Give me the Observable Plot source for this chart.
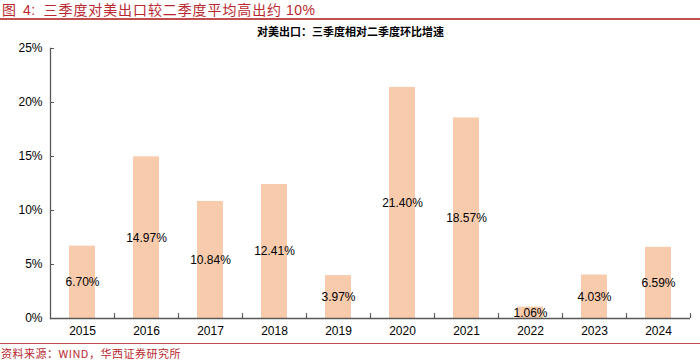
<!DOCTYPE html>
<html><head><meta charset="utf-8">
<script src="https://cdn.jsdelivr.net/npm/d3@7"></script>
<script src="https://cdn.jsdelivr.net/npm/@observablehq/plot@0.6"></script>
<style>
body{margin:0;background:#fff;width:700px;height:363px;overflow:hidden;font-family:"Liberation Sans","Noto Sans CJK SC",sans-serif;}
#title{height:18px;line-height:19px;font-size:14px;letter-spacing:0.9px;color:#b8282e;font-family:"Noto Sans CJK SC",sans-serif;border-bottom:2px solid #c0504d;padding-left:2px;white-space:nowrap;overflow:visible;}
#title .num{font-family:"Liberation Sans",sans-serif;letter-spacing:0.5px;}
#title .n4{margin-left:6px;}
#title .lab{margin-right:8px;}
#cap{border-top:1.5px solid #c0504d;font-size:11px;letter-spacing:0.5px;color:#b8282e;font-family:"Noto Sans CJK SC",sans-serif;padding-left:1px;line-height:18px;}
svg{display:block;}
</style></head>
<body>
<div id="title"><span class="lab">图<span class="num n4">4:</span></span>三季度对美出口较二季度平均高出约 <span class="num">10%</span></div>
<div id="chart"></div>
<div id="cap">资料来源：WIND，华西证券研究所</div>
<script>
const years = ["2015","2016","2017","2018","2019","2020","2021","2022","2023","2024"];
const values = [6.70, 14.97, 10.84, 12.41, 3.97, 21.40, 18.57, 1.06, 4.03, 6.59];
const yTicks = [0, 5, 10, 15, 20, 25];
const subtitle = "对美出口：三季度相对二季度环比增速";

const data = years.map((y, i) => ({year: y, value: values[i]}));

const chart = Plot.plot({
  width: 700,
  height: 323,
  marginTop: 28,
  marginBottom: 25,
  marginLeft: 50,
  marginRight: 10,
  style: {fontFamily: "'Liberation Sans', Arial, sans-serif", fontSize: "12px", color: "#000", background: "#fff"},
  x: {domain: years, paddingInner: 0.6, paddingOuter: 0.3, label: null},
  y: {domain: [0, 25], label: null},
  marks: [
    Plot.barY(data, {x: "year", y: "value", fill: "#f8cbad"}),
    Plot.text(data, {x: "year", y: d => d.value / 2, text: d => d.value.toFixed(2) + "%", fontSize: 12, fill: "#000"}),
    Plot.ruleY([0], {stroke: "#595959", strokeWidth: 1.3}),
    Plot.frame({anchor: "left", stroke: "#595959", strokeWidth: 1.3}),
    Plot.ruleX(years, {x: d => d, dx: 32, y1: 0, y2: 0.45, stroke: "#595959", strokeWidth: 1.2}),
    Plot.axisX({tickSize: 0, tickPadding: 8, fontSize: 12}),
    Plot.axisY({ticks: yTicks, tickSize: -4, tickPadding: 12, tickFormat: d => d + "%", fontSize: 12, stroke: "#595959"}),
    Plot.text([subtitle], {frameAnchor: "top", dx: -20, dy: -20, fontWeight: "bold", fontSize: 11, fontFamily: "'Noto Sans CJK SC', sans-serif", fill: "#000"})
  ]
});
document.getElementById("chart").appendChild(chart);
</script>
</body></html>
